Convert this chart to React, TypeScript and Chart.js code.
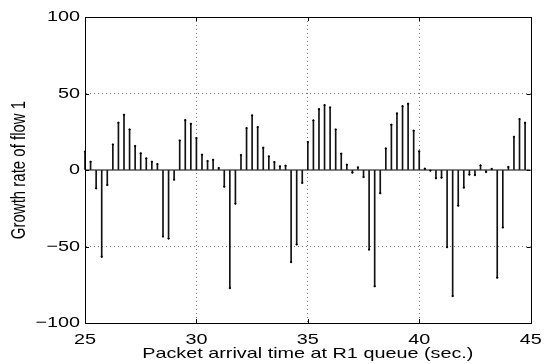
import React, { useEffect, useRef } from "react";
import { Chart, registerables } from "chart.js";

Chart.register(...registerables);

const times = [
  25.0, 25.25, 25.5, 25.75, 26.0, 26.25, 26.5, 26.75, 27.0, 27.25, 27.5, 27.75,
  28.0, 28.25, 28.5, 28.75, 29.0, 29.25, 29.5, 29.75, 30.0, 30.25, 30.5, 30.75,
  31.0, 31.25, 31.5, 31.75, 32.0, 32.25, 32.5, 32.75, 33.0, 33.25, 33.5, 33.75,
  34.0, 34.25, 34.5, 34.75, 35.0, 35.25, 35.5, 35.75, 36.0, 36.25, 36.5, 36.75,
  37.0, 37.25, 37.5, 37.75, 38.0, 38.25, 38.5, 38.75, 39.0, 39.25, 39.5, 39.75,
  40.0, 40.25, 40.5, 40.75, 41.0, 41.25, 41.5, 41.75, 42.0, 42.25, 42.5, 42.75,
  43.0, 43.25, 43.5, 43.75, 44.0, 44.25, 44.5, 44.75,
];

const growthRate = [
  12, 5.4, -12, -56.7, -9.8, 16.7, 30.9, 36.1, 26.5, 15.7, 10.9, 7.6,
  5.4, 3.9, -43.5, -44.8, -6.3, 19.3, 32.6, 30.2, 20.9, 10.0, 5.9, 6.7,
  1.3, -10.9, -77.2, -22, 9.8, 27.4, 35.7, 28, 14.6, 8.9, 5.2, 2.4,
  2.8, -60.2, -48.7, -8.4, 18.3, 32.4, 39.8, 42.4, 40.9, 26.5, 10.7, 3.5,
  -1.7, 1.7, -4.6, -52, -76, -15.2, 14.1, 29.6, 37, 41.7, 43.3, 25.7,
  12.2, 0.9, -0.4, -5.4, -5, -50.4, -82.4, -23.3, -11.5, -3, -3.3, 3,
  -1.3, 0.7, -70.4, -37.6, 2, 21.7, 33.3, 30.9,
];

const xTicks = [25, 30, 35, 40, 45];
const yTicks = [-100, -50, 0, 50, 100];

const FONT = "'Liberation Sans', Arial, Helvetica, sans-serif";
const TEXT_STRETCH = 1.32;

// Text in the reference is horizontally widened; reproduce by scaling
// each text draw horizontally around its own anchor in screen space.
const stretchTextPlugin = {
  id: "stretchText",
  beforeDraw(chart: any) {
    const ctx = chart.ctx;
    if (ctx.__stretched) return;
    ctx.__stretched = true;
    const orig = ctx.fillText.bind(ctx);
    ctx.fillText = (text: string, x: number, y: number, maxWidth?: number) => {
      const m = ctx.getTransform();
      const px = m.a * x + m.c * y + m.e;
      const S = TEXT_STRETCH;
      ctx.save();
      ctx.setTransform(S * m.a, m.b, S * m.c, m.d, S * m.e + (1 - S) * px, m.f);
      if (maxWidth === undefined) orig(text, x, y);
      else orig(text, x, y, maxWidth);
      ctx.restore();
    };
  },
};

const boxPlugin = {
  id: "matlabBox",
  afterDraw(chart: any) {
    const { ctx, chartArea: a, scales } = chart;
    ctx.save();
    ctx.strokeStyle = "#000";
    ctx.lineWidth = 1;
    ctx.setLineDash([]);
    ctx.beginPath();
    const t = 4;
    for (const v of xTicks) {
      const px = Math.round(scales.x.getPixelForValue(v)) + 0.5;
      ctx.moveTo(px, a.bottom);
      ctx.lineTo(px, a.bottom - t);
      ctx.moveTo(px, a.top);
      ctx.lineTo(px, a.top + t);
    }
    for (const v of yTicks) {
      const py = Math.round(scales.y.getPixelForValue(v)) + 0.5;
      ctx.moveTo(a.left, py);
      ctx.lineTo(a.left + t, py);
      ctx.moveTo(a.right, py);
      ctx.lineTo(a.right - t, py);
    }
    ctx.stroke();
    ctx.strokeRect(
      Math.round(a.left) + 0.5,
      Math.round(a.top) + 0.5,
      Math.round(a.right - a.left),
      Math.round(a.bottom - a.top)
    );
    ctx.restore();
  },
};

export default function App() {
  const ref = useRef<HTMLCanvasElement | null>(null);

  useEffect(() => {
    if (!ref.current) return;
    const stemData = times.map((t, i) => ({ x: t, y: growthRate[i] }));
    const chart = new Chart(ref.current, {
      type: "bar",
      data: {
        datasets: [
          {
            type: "line",
            data: [
              { x: 25, y: 0 },
              { x: 45, y: 0 },
            ],
            borderColor: "#000",
            borderWidth: 1,
            pointRadius: 0,
            order: 0,
          } as any,
          {
            type: "bar",
            data: stemData,
            backgroundColor: "#111",
            borderWidth: 0,
            barThickness: 1,
            clip: false,
            order: 1,
          } as any,
          {
            type: "scatter",
            data: stemData,
            backgroundColor: "#000",
            borderColor: "#000",
            pointRadius: 0.8,
            pointStyle: "rect",
            clip: false,
            order: 0,
          } as any,
        ],
      },
      options: {
        animation: false,
        responsive: false,
        maintainAspectRatio: false,
        events: [],
        layout: { padding: { top: 17, right: 15, left: 0, bottom: 0 } },
        plugins: {
          legend: { display: false },
          tooltip: { enabled: false },
        },
        scales: {
          x: {
            type: "linear",
            min: 25,
            max: 45,
            offset: false,
            afterBuildTicks: (s: any) => {
              s.ticks = xTicks.map((v) => ({ value: v }));
            },
            afterFit: (s: any) => {
              s.height = 41;
            },
            grid: {
              offset: false,
              drawTicks: false,
              color: (c: any) =>
                c.tick && (c.tick.value === 25 || c.tick.value === 45)
                  ? "rgba(0,0,0,0)"
                  : "rgba(0,0,0,0.55)",
              lineWidth: 1,
            },
            border: { display: true, color: "#000", dash: [1, 3] },
            ticks: {
              color: "#000",
              font: { family: FONT, size: 15 },
              padding: 8,
              maxRotation: 0,
              autoSkip: false,
              callback: (v: any) => String(v),
            },
            title: {
              display: true,
              text: "Packet arrival time at R1 queue (sec.)",
              color: "#000",
              font: { family: FONT, size: 15 },
              padding: { top: 0, bottom: 1 },
            },
          },
          y: {
            min: -100,
            max: 100,
            afterBuildTicks: (s: any) => {
              s.ticks = yTicks.map((v) => ({ value: v }));
            },
            afterFit: (s: any) => {
              s.width = 85;
            },
            grid: {
              drawTicks: false,
              color: (c: any) =>
                c.tick &&
                (c.tick.value === 0 ||
                  c.tick.value === 100 ||
                  c.tick.value === -100)
                  ? "rgba(0,0,0,0)"
                  : "rgba(0,0,0,0.55)",
              lineWidth: 1,
            },
            border: { display: true, color: "#000", dash: [1, 3] },
            ticks: {
              color: "#000",
              font: { family: FONT, size: 15 },
              padding: 5,
              autoSkip: false,
              callback: (v: any) =>
                Number(v) < 0 ? "\u2212" + Math.abs(Number(v)) : String(v),
            },
            title: {
              display: true,
              text: "Growth rate of flow 1",
              color: "#000",
              font: { family: FONT, size: 15 },
              padding: { top: 11, bottom: 0 },
            },
          },
        },
      },
      plugins: [stretchTextPlugin, boxPlugin],
    });
    return () => chart.destroy();
  }, []);

  return (
    <div
      style={{
        position: "fixed",
        left: 0,
        top: 0,
        width: 547,
        height: 364,
        background: "#fff",
      }}
    >
      <canvas ref={ref} width={547} height={364} />
    </div>
  );
}
